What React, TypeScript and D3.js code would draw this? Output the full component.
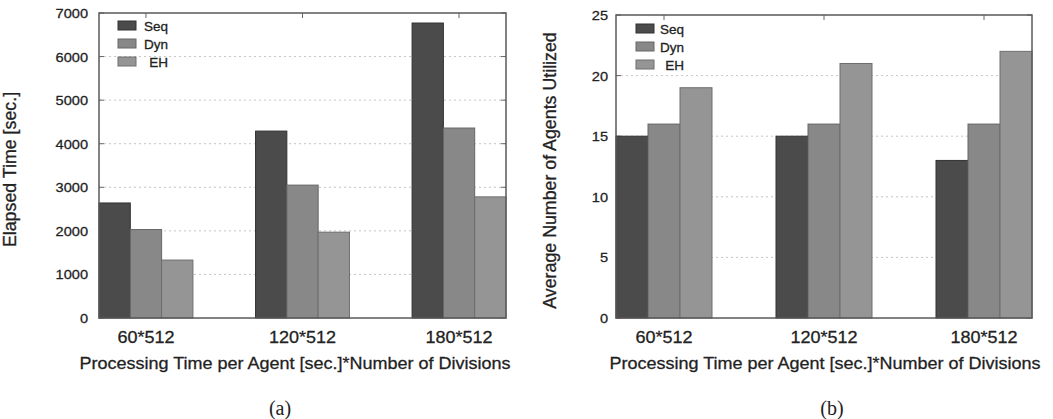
import React from 'react';
import * as d3 from 'd3';

const categories = ['60*512', '120*512', '180*512'];
const seriesNames = ['Seq', 'Dyn', 'EH'];
const seriesColors = ['#4b4b4b', '#888888', '#959595'];
const seriesStroke = ['#333333', '#666666', '#6e6e6e'];

// (a) elapsed time [sec.]
const elapsedSeq = [2640, 4290, 6770];
const elapsedDyn = [2030, 3050, 4360];
const elapsedEH = [1330, 1970, 2780];
const elapsedTicks = [0, 1000, 2000, 3000, 4000, 5000, 6000, 7000];

// (b) average number of agents utilized
const agentsSeq = [15, 15, 13];
const agentsDyn = [16, 16, 16];
const agentsEH = [19, 21, 22];
const agentsTicks = [0, 5, 10, 15, 20, 25];

const font = '"Liberation Sans", Arial, Helvetica, sans-serif';
const ink = '#222';

function Panel({ frame, yMax, ticks, series, yTitle, yTitleX, tickRight, caption, captionX, xTitleX, legend }) {
  const x = d3.scaleLinear().domain([-0.3, 2.3]).range([frame.left, frame.right]);
  const y = d3.scaleLinear().domain([0, yMax]).range([frame.bottom, frame.top]);
  const bw = 0.2;
  const midY = (frame.top + frame.bottom) / 2;
  const textProps = { fontFamily: font, fill: ink, stroke: ink, strokeWidth: 0.3 };

  return (
    <g>
      {/* grid */}
      {ticks.slice(1, -1).map(t => (
        <line key={'g' + t} x1={frame.left} x2={frame.right} y1={y(t)} y2={y(t)}
          stroke="#c4c4c4" strokeWidth={1} strokeDasharray="2,3" />
      ))}
      {/* inner ticks */}
      {ticks.map(t => (
        <g key={'t' + t}>
          <line x1={frame.left} x2={frame.left + 5} y1={y(t)} y2={y(t)} stroke="#666" />
          <line x1={frame.right - 5} x2={frame.right} y1={y(t)} y2={y(t)} stroke="#666" />
        </g>
      ))}
      {categories.map((c, i) => (
        <line key={'xt' + c} x1={x(i)} x2={x(i)} y1={frame.top} y2={frame.top + 5} stroke="#666" />
      ))}
      {/* bars */}
      {series.map((vals, s) =>
        vals.map((v, i) => {
          const x0 = x(i + (s - 1) * bw - bw / 2);
          const x1 = x(i + (s - 1) * bw + bw / 2);
          return (
            <rect key={s + '-' + i} x={x0} y={y(v)} width={x1 - x0} height={y(0) - y(v)}
              fill={seriesColors[s]} stroke={seriesStroke[s]} strokeWidth={1} />
          );
        })
      )}
      {/* frame */}
      <rect x={frame.left} y={frame.top} width={frame.right - frame.left} height={frame.bottom - frame.top}
        fill="none" stroke="#5a5a5a" strokeWidth={1.5} />
      {/* y tick labels */}
      {ticks.map(t => (
        <text key={'yl' + t} transform={`translate(${tickRight},${y(t) + 5}) scale(1,0.92)`}
          textAnchor="end" fontSize={14.6} {...textProps}>{t}</text>
      ))}
      {/* x category labels */}
      {categories.map((c, i) => (
        <text key={'xl' + c} transform={`translate(${x(i)},${frame.bottom + 25}) scale(1,0.92)`}
          textAnchor="middle" fontSize={18} {...textProps}>{c}</text>
      ))}
      {/* x title */}
      <text transform={`translate(${xTitleX},${frame.bottom + 51}) scale(1,0.92)`}
        textAnchor="middle" fontSize={18} {...textProps}>
        Processing Time per Agent [sec.]*Number of Divisions
      </text>
      {/* y title */}
      <text transform={`translate(${yTitleX},${midY + 4}) rotate(-90)`} textAnchor="middle"
        fontSize={17.8} {...textProps}>{yTitle}</text>
      {/* legend */}
      {seriesNames.map((n, s) => (
        <g key={'lg' + n}>
          <rect x={legend.x} y={legend.y + s * 18 - 4.5} width={18} height={9}
            fill={seriesColors[s]} stroke={seriesStroke[s]} />
          <text x={legend.textRight} y={legend.y + s * 18 + 5} textAnchor="end"
            fontSize={13.5} {...textProps}>{n}</text>
        </g>
      ))}
      {/* caption */}
      <text x={captionX} y={415} textAnchor="middle" fontSize={20}
        fontFamily='"Liberation Serif", "Times New Roman", serif' fill={ink}>{caption}</text>
    </g>
  );
}

export default function App() {
  return (
    <svg width={1053} height={419} style={{ position: 'absolute', left: 0, top: 0, background: '#fff' }}>
      <rect width={1053} height={419} fill="#fff" />
      <Panel
        frame={{ left: 99, right: 506, top: 13, bottom: 318 }}
        yMax={7000}
        ticks={elapsedTicks}
        series={[elapsedSeq, elapsedDyn, elapsedEH]}
        yTitle="Elapsed Time [sec.]"
        yTitleX={16}
        tickRight={88}
        caption="(a)"
        captionX={280}
        xTitleX={295}
        legend={{ x: 118, y: 25.5, textRight: 168 }}
      />
      <Panel
        frame={{ left: 616, right: 1032, top: 15, bottom: 318 }}
        yMax={25}
        ticks={agentsTicks}
        series={[agentsSeq, agentsDyn, agentsEH]}
        yTitle="Average Number of Agents Utilized"
        yTitleX={556}
        tickRight={608}
        caption="(b)"
        captionX={832}
        xTitleX={825}
        legend={{ x: 636, y: 28.5, textRight: 684 }}
      />
    </svg>
  );
}
